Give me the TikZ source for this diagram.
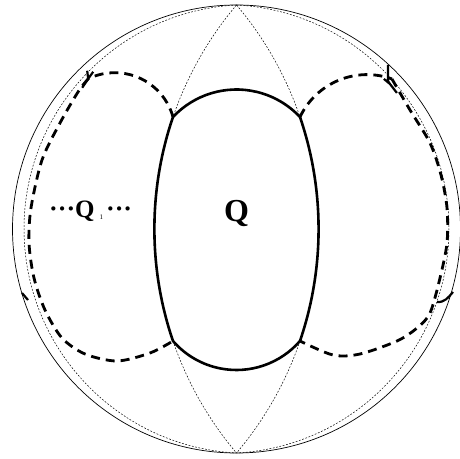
\documentclass[tikz,border=0pt]{standalone}
\usepackage{fontspec}
\setmainfont{Liberation Serif}
\usetikzlibrary{calc}

\begin{document}
\begin{tikzpicture}[x=1pt, y=1pt,
    rim/.style={line width=0.7pt},
    guide/.style={line width=0.5pt, dash pattern=on 1.8pt off 1.6pt},
    qedge/.style={line width=2.6pt, line join=round},
    image/.style={line width=2.8pt, dash pattern=on 9pt off 6pt},
    tick/.style={line width=2.2pt},
    qlabel/.style={font=\bfseries\fontsize{32}{32}\selectfont, inner sep=0pt, anchor=base},
  ]
  \useasboundingbox (0,0) rectangle (460,458);

  % disc and its two poles
  \coordinate (O) at (236.5,229);
  \coordinate (N) at (236.5,453);
  \coordinate (S) at (236.5,5);
  \draw[rim] (O) circle[radius=224];

  % corners of Q
  \coordinate (A) at (173,341);
  \coordinate (B) at (300,341);
  \coordinate (C) at (300,117);
  \coordinate (D) at (173,117);

  % curves through both poles
  \draw[guide] (N) arc[start angle=93.02, end angle=266.98, radius=224.31];
  \draw[guide] (N) arc[start angle=86.98, end angle=-86.98, radius=224.31];
  \draw[guide] (N) arc[start angle=139.75, end angle=161.15, radius=346.66];
  \draw[guide] (D) arc[start angle=198.85, end angle=220.25, radius=346.66];
  \draw[guide] (N) arc[start angle=40.25, end angle=18.85, radius=346.66];
  \draw[guide] (C) arc[start angle=-18.85, end angle=-40.25, radius=346.66];

  % Q
  \draw[qedge] (A) arc[start angle=136.83, end angle=43.17, radius=87.06]
    arc[start angle=18.85, end angle=-18.85, radius=346.66]
    arc[start angle=-40.9, end angle=-139.1, radius=84.02]
    arc[start angle=198.85, end angle=161.15, radius=346.66] -- cycle;

  % Q1 on the left, its twin on the right
  \draw[image] (A) arc[start angle=15.5, end angle=116, radius=60.5] coordinate (P1);
  \draw[image] plot[smooth] coordinates {(P1) (78,366) (60,335) (42,298) (31,250)
    (29,215) (34,180) (45,148) (62,120) (85,104) (117,97) (150,105) (D)};
  \draw[image] (B) arc[start angle=154.6, end angle=70.4, radius=74.2] coordinate (P3);
  \draw[image] plot[smooth] coordinates {(P3) (410,348) (430,315) (441,283) (447,250)
    (447,215) (440,180) (430,145) (417,130) (397,117) (360,104) (333,103) (C)};

  % marks at the outer corners
  \draw[tick] ([shift={(-6,-9)}]P1) -- (P1) -- +(5,7) (P1) -- +(-1,8);
  \draw[tick] ([shift={(-4,14)}]P3) -- ([shift={(-4,-2)}]P3) -- ([shift={(-2,-5)}]P3)
    -- ([shift={(5,-14)}]P3) ([shift={(-2,-5)}]P3) -- ([shift={(-8,0)}]P3);
  \draw[tick] (22,165) -- (28,158);
  \draw[tick] (437,156) to[out=-5, in=230] (453,166);

  % labels
  \node[qlabel] (q) at (236.5,236) {Q};
  \node[font=\bfseries\fontsize{25}{25}\selectfont, anchor=base west, inner sep=0pt] (q1)
    at (49,240) {{\fontsize{26}{26}\selectfont···}Q\kern5pt{\mdseries\fontsize{7}{7}\selectfont\raisebox{-2pt}{1}}\kern3pt{\fontsize{26}{26}\selectfont···}};
\end{tikzpicture}
\end{document}
